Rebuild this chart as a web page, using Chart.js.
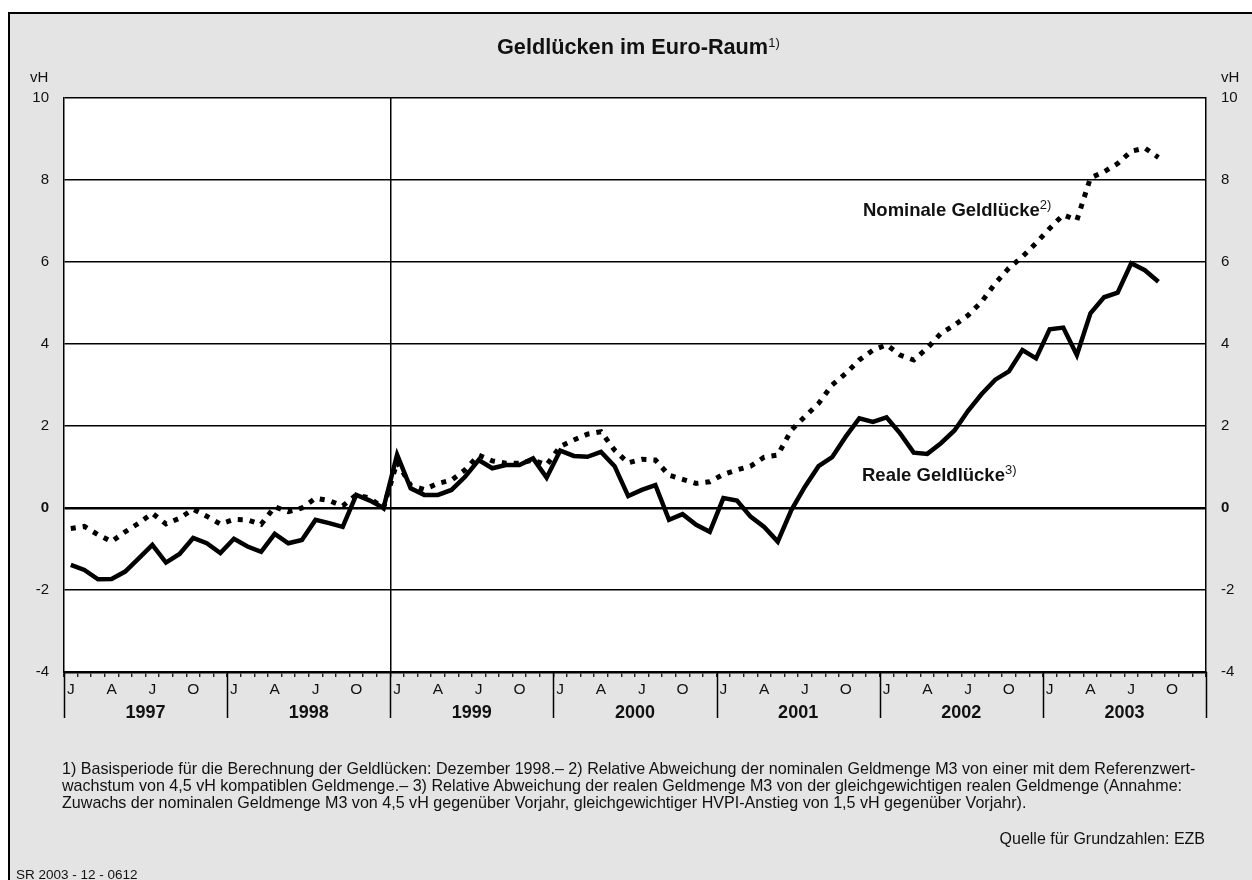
<!DOCTYPE html>
<html lang="de">
<head>
<meta charset="utf-8">
<title>Geldlücken im Euro-Raum</title>
<script src="https://cdn.jsdelivr.net/npm/chart.js@4.4.1/dist/chart.umd.min.js"></script>
<style>
  html, body { margin: 0; padding: 0; background: #fff; }
  body { width: 1252px; height: 880px; position: relative; overflow: hidden;
         font-family: "Liberation Sans", Arial, sans-serif; color: #111; }
  #frame { position: absolute; left: 8px; top: 12px; right: 0; bottom: 0;
           background: #e4e4e4; border-left: 2px solid #000; border-top: 2px solid #000; }
  #myChart { position: absolute; left: 0; top: 0; }
  .txt { position: absolute; white-space: nowrap; }
  .sup { font-size: 13px; font-weight: normal; position: relative; top: -7px; }
  #title { left: 497px; top: 36px; font-size: 21.7px; font-weight: bold; line-height: 22px; }
  .unit { top: 69px; font-size: 15px; line-height: 16px; }
  .serie { font-size: 18.5px; font-weight: bold; line-height: 18px; }
  #notes { left: 62px; top: 760px; font-size: 16.1px; line-height: 17px; }
  #source { right: 47px; top: 830px; font-size: 16px; line-height: 17px; }
  #code { left: 16px; top: 867px; font-size: 13.5px; line-height: 15px; }
</style>
</head>
<body>
<div id="frame"></div>
<canvas id="myChart" width="1252" height="880"></canvas>

<div class="txt" id="title">Geldlücken im Euro-Raum<span class="sup">1)</span></div>
<div class="txt unit" style="left:30px">vH</div>
<div class="txt unit" style="left:1221px">vH</div>
<div class="txt serie" style="left:863px; top:201px">Nominale Geldlücke<span class="sup">2)</span></div>
<div class="txt serie" style="left:862px; top:466px">Reale Geldlücke<span class="sup">3)</span></div>
<div class="txt" id="notes">1) Basisperiode für die Berechnung der Geldlücken: Dezember 1998.– 2) Relative Abweichung der nominalen Geldmenge M3 von einer mit dem Referenzwert-<br>wachstum von 4,5 vH kompatiblen Geldmenge.– 3) Relative Abweichung der realen Geldmenge M3 von der gleichgewichtigen realen Geldmenge (Annahme:<br>Zuwachs der nominalen Geldmenge M3 von 4,5 vH gegenüber Vorjahr, gleichgewichtiger HVPI-Anstieg von 1,5 vH gegenüber Vorjahr).</div>
<div class="txt" id="source">Quelle für Grundzahlen: EZB</div>
<div class="txt" id="code">SR 2003 - 12 - 0612</div>

<script>
const years = ['1997', '1998', '1999', '2000', '2001', '2002', '2003'];
const monthLetters = ['J', 'F', 'M', 'A', 'M', 'J', 'J', 'A', 'S', 'O', 'N', 'D'];

// Januar 1997 bis September 2003, monatlich, in vH
const nominalGap = [
  -0.50, -0.45, -0.65, -0.82, -0.58, -0.37, -0.13, -0.39, -0.25, -0.03, -0.20, -0.39,
  -0.28, -0.29, -0.40, 0.03, -0.09, 0.00, 0.24, 0.18, 0.05, 0.32, 0.24, 0.00,
  1.12, 0.55, 0.45, 0.60, 0.68, 0.93, 1.29, 1.15, 1.09, 1.09, 1.17, 1.05,
  1.50, 1.66, 1.80, 1.86, 1.41, 1.10, 1.19, 1.17, 0.80, 0.70, 0.60, 0.64,
  0.82, 0.93, 1.02, 1.24, 1.29, 1.90, 2.23, 2.55, 3.00, 3.28, 3.61, 3.85,
  3.98, 3.73, 3.61, 3.90, 4.26, 4.46, 4.70, 5.03, 5.48, 5.85, 6.13, 6.46,
  6.82, 7.15, 7.02, 8.05, 8.20, 8.40, 8.70, 8.78, 8.55
];
const realGap = [
  -1.39, -1.51, -1.74, -1.73, -1.55, -1.23, -0.90, -1.33, -1.12, -0.73, -0.86, -1.10,
  -0.75, -0.94, -1.07, -0.63, -0.86, -0.78, -0.29, -0.37, -0.46, 0.32, 0.18, 0.00,
  1.30, 0.48, 0.32, 0.32, 0.44, 0.76, 1.17, 0.97, 1.05, 1.05, 1.21, 0.74,
  1.40, 1.27, 1.25, 1.37, 1.02, 0.29, 0.44, 0.56, -0.29, -0.15, -0.41, -0.58,
  0.24, 0.18, -0.21, -0.46, -0.82, -0.05, 0.52, 1.02, 1.24, 1.74, 2.19, 2.10,
  2.21, 1.82, 1.35, 1.32, 1.58, 1.89, 2.37, 2.78, 3.13, 3.33, 3.85, 3.65,
  4.36, 4.40, 3.73, 4.75, 5.14, 5.25, 5.97, 5.80, 5.52
];
const yTicks = [-4, -2, 0, 2, 4, 6, 8, 10];

let monthLabels = [];
for (let y = 0; y < years.length; y++) {
  for (let m = 0; m < 12; m++) {
    monthLabels.push(monthLetters[m]);
  }
}

Chart.defaults.font.family = '"Liberation Sans", Arial, sans-serif';
Chart.defaults.color = '#111';

// weisse Zeichenflaeche und Jahrestrennstriche
const paperPlugin = {
  id: 'paper',
  beforeDraw(chart) {
    const a = chart.chartArea;
    const ctx = chart.ctx;
    ctx.save();
    ctx.fillStyle = '#fff';
    ctx.fillRect(a.left, a.top, a.right - a.left, a.bottom - a.top);
    ctx.restore();
  },
  afterDraw(chart) {
    const x = chart.scales.x;
    const ctx = chart.ctx;
    const band = (x.right - x.left) / monthLabels.length;
    ctx.save();
    ctx.strokeStyle = '#000';
    ctx.lineWidth = 1.5;
    for (let k = 0; k <= monthLabels.length; k += 12) {
      const px = Math.round(x.left + k * band) + 0.5;
      ctx.beginPath();
      ctx.moveTo(px, chart.chartArea.bottom);
      ctx.lineTo(px, 718);
      ctx.stroke();
    }
    ctx.restore();
  }
};

const tickFont = ctx => ({
  size: 15,
  weight: ctx.tick && ctx.tick.value === 0 ? 'bold' : 'normal'
});

const chart = new Chart(document.getElementById('myChart'), {
  type: 'line',
  data: {
    labels: monthLabels,
    datasets: [
      {
        label: 'Nominale Geldlücke',
        data: nominalGap,
        borderColor: '#000',
        borderWidth: 5,
        borderDash: [5, 7],
        borderCapStyle: 'butt',
        pointRadius: 0,
        tension: 0,
        xAxisID: 'x',
        yAxisID: 'y'
      },
      {
        label: 'Reale Geldlücke',
        data: realGap,
        borderColor: '#000',
        borderWidth: 4.5,
        borderJoinStyle: 'miter',
        pointRadius: 0,
        tension: 0,
        xAxisID: 'x',
        yAxisID: 'y'
      }
    ]
  },
  options: {
    responsive: false,
    animation: false,
    layout: { padding: { left: 0, right: 0, top: 98, bottom: 152 } },
    plugins: {
      legend: { display: false },
      tooltip: { enabled: false }
    },
    scales: {
      x: {
        type: 'category',
        position: 'bottom',
        weight: 0,
        offset: true,
        grid: {
          offset: true,
          drawOnChartArea: true,
          color: ctx => ctx.index === 24 ? '#000' : 'rgba(0,0,0,0)',
          lineWidth: 1.5,
          tickColor: '#000',
          tickWidth: 1.2,
          tickLength: 5
        },
        border: { display: true, color: '#000', width: 2.5 },
        ticks: {
          autoSkip: false,
          maxRotation: 0,
          padding: 3,
          font: { size: 15.5 },
          callback: function (val, idx) {
            return idx % 3 === 0 ? this.getLabelForValue(val) : '';
          }
        },
        afterFit: scale => { scale.height = 30; }
      },
      years: {
        type: 'category',
        position: 'bottom',
        weight: 1,
        labels: years,
        offset: true,
        grid: { display: false, drawTicks: false },
        border: { display: false },
        ticks: { padding: 0, font: { size: 18, weight: 'bold' }, maxRotation: 0 },
        afterFit: scale => { scale.height = 26; }
      },
      y: {
        position: 'left',
        min: -4,
        max: 10,
        afterBuildTicks: scale => { scale.ticks = yTicks.map(v => ({ value: v })); },
        grid: {
          color: '#000',
          lineWidth: ctx => ctx.tick && ctx.tick.value === 0 ? 2.5 : 1.4,
          drawTicks: false
        },
        border: { display: true, color: '#000', width: 1.5 },
        ticks: { padding: 15, font: tickFont, color: '#111' },
        afterFit: scale => { scale.width = 64; }
      },
      y2: {
        position: 'right',
        min: -4,
        max: 10,
        afterBuildTicks: scale => { scale.ticks = yTicks.map(v => ({ value: v })); },
        grid: { display: false, drawTicks: false },
        border: { display: true, color: '#000', width: 1.5 },
        ticks: { padding: 15, font: tickFont, color: '#111' },
        afterFit: scale => { scale.width = 46; }
      }
    }
  },
  plugins: [paperPlugin]
});
</script>
</body>
</html>
